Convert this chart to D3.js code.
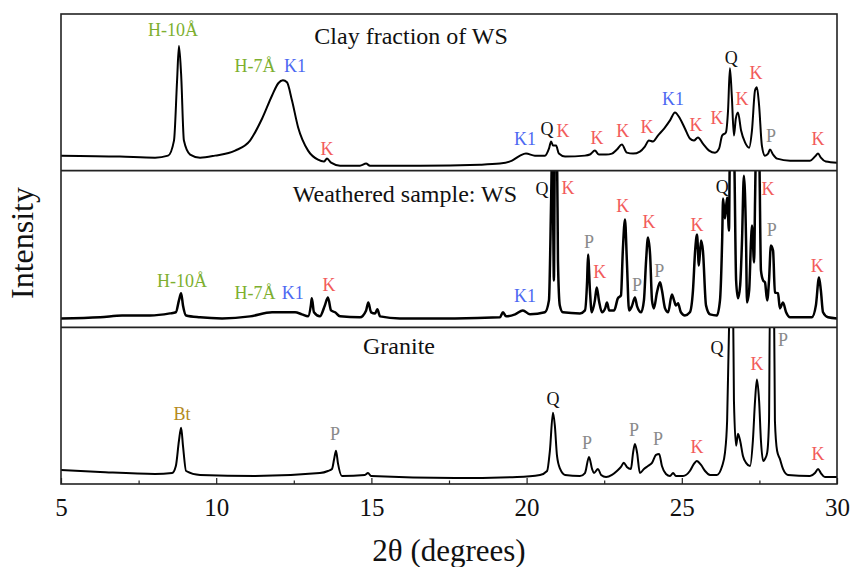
<!DOCTYPE html>
<html>
<head>
<meta charset="utf-8">
<script src="https://cdn.jsdelivr.net/npm/d3@7"></script>
<style>
  body { margin: 0; background: #fff; }
  svg text { font-family: "Liberation Serif", "Times New Roman", serif; }
</style>
</head>
<body>
<div id="chart"></div>
<script>
// 2θ (degrees) and relative intensity (0-100 = panel height)
const clayData = [
  [5.0, 9.6], [6.9, 9.0], [8.03, 8.3], [8.45, 9.6], [8.64, 19.2], [8.74, 57.7], [8.80, 79.5],
  [8.87, 61.5], [8.96, 19.2], [9.16, 10.3], [9.48, 8.3], [9.96, 9.6], [10.61, 12.8], [11.09, 19.2],
  [11.48, 33.3], [11.8, 48], [12.0, 55.8], [12.15, 57.7], [12.28, 56.4], [12.44, 44.9], [12.64, 27.6],
  [12.96, 12.8], [13.28, 7], [13.47, 5.8], [13.57, 7.7], [13.7, 5.1], [13.99, 3.2], [14.63, 3.2],
  [14.83, 4.5], [14.95, 3.2], [16.57, 3.2], [18.5, 3.8], [19.14, 4.5], [19.53, 6.4], [19.79, 9.6],
  [19.98, 10.9], [20.27, 9.6], [20.59, 9.6], [20.72, 14.1], [20.79, 18.6], [20.85, 16], [20.95, 16],
  [21.04, 10.9], [21.24, 9], [21.88, 9.6], [22.04, 10.3], [22.2, 12.8], [22.33, 10.3], [22.56, 10.3],
  [22.75, 10.9], [22.91, 13.5], [23.07, 16.7], [23.23, 11.5], [23.43, 10.9], [23.65, 12.2], [23.81, 15.4],
  [23.94, 19.2], [24.07, 18.6], [24.23, 22.4], [24.43, 26.9], [24.62, 32.1], [24.78, 37.2], [24.94, 33.3],
  [25.1, 26.9], [25.26, 20.5], [25.39, 19.2], [25.52, 21.2], [25.68, 17.3], [25.88, 12.8], [26.07, 11.5],
  [26.2, 14.1], [26.3, 22.4], [26.42, 24.4], [26.49, 38.5], [26.55, 65.4], [26.61, 48.1], [26.68, 22.4],
  [26.74, 33.3], [26.81, 37.2], [26.91, 25.6], [27.04, 17.9], [27.17, 14.7], [27.26, 25.6], [27.36, 51.3],
  [27.42, 53.2], [27.49, 41.7], [27.58, 16], [27.68, 9.6], [27.78, 10.9], [27.84, 13.5], [27.94, 10.3],
  [28.07, 7.7], [28.49, 6.4], [29.13, 6.4], [29.29, 9], [29.39, 10.9], [29.48, 8.3], [29.64, 5.8], [30, 5.1]
];

const wsData = [
  [5.0, 5.7], [6.26, 6.4], [6.97, 7.6], [7.87, 7.6], [8.51, 8.9], [8.7, 9.6], [8.8, 17.2], [8.87, 21.7],
  [8.93, 14], [9.03, 7.6], [9.48, 6.4], [10.19, 5.7], [11.09, 7], [11.8, 9.6], [12.54, 9.6], [12.76, 8.3],
  [12.96, 7], [13.05, 14], [13.08, 18.5], [13.15, 9.6], [13.34, 7], [13.5, 14], [13.6, 19.1], [13.7, 10.8],
  [13.83, 9.6], [13.99, 7], [14.63, 6.4], [14.83, 10.8], [14.9, 15.9], [14.99, 9.6], [15.12, 8.9],
  [15.19, 11.5], [15.28, 7], [15.92, 5.7], [17.69, 5.7], [19.14, 6.4], [19.24, 9.6], [19.34, 7],
  [19.63, 8.3], [19.88, 10.8], [20.11, 8.3], [20.59, 9.6], [20.72, 17.2], [20.79, 80.9], [20.82, 112],
  [20.85, 80.9], [20.88, 29.9], [20.91, 112], [20.98, 112], [21.01, 42.7], [21.07, 14], [21.17, 9.6],
  [21.72, 8.9], [21.88, 10.8], [21.95, 29.9], [21.98, 46.5], [22.04, 23.6], [22.1, 9.6], [22.2, 17.2],
  [22.26, 25.5], [22.33, 17.2], [22.43, 9.6], [22.53, 12.1], [22.59, 15.9], [22.66, 10.8], [22.82, 10.8],
  [22.94, 18.5], [23.04, 20.4], [23.1, 49], [23.17, 68.8], [23.23, 42.7], [23.3, 10.8], [23.39, 13.4],
  [23.49, 19.1], [23.56, 13.4], [23.69, 9.6], [23.78, 17.2], [23.85, 42.7], [23.91, 57.3], [23.98, 45.9],
  [24.04, 17.2], [24.1, 12.1], [24.2, 22.3], [24.3, 28.7], [24.36, 23.6], [24.46, 12.1], [24.56, 9.6],
  [24.68, 21], [24.75, 17.2], [24.81, 14], [24.88, 15.3], [24.97, 9.6], [25.1, 7.6], [25.26, 9.6],
  [25.36, 23.6], [25.43, 49], [25.49, 59.2], [25.55, 39.5], [25.62, 55.4], [25.68, 49], [25.78, 14],
  [25.91, 8.3], [26.13, 7.6], [26.23, 17.2], [26.3, 55.4], [26.33, 82.2], [26.39, 69.4], [26.46, 82.8],
  [26.52, 61.8], [26.55, 112], [26.68, 112], [26.75, 29.9], [26.81, 18.5], [26.88, 26.8], [26.94, 55.4],
  [27.0, 96.8], [27.07, 55.4], [27.1, 15.9], [27.17, 23.6], [27.23, 55.4], [27.26, 65], [27.33, 41.4],
  [27.36, 80.9], [27.39, 112], [27.49, 112], [27.55, 36.3], [27.62, 29.9], [27.68, 28.7], [27.75, 17.2],
  [27.81, 29.9], [27.87, 52.2], [27.94, 49], [28.0, 22.3], [28.1, 21.7], [28.16, 12.1], [28.26, 15.9],
  [28.36, 9.6], [28.49, 6.4], [29.19, 6.4], [29.32, 14], [29.42, 31.8], [29.48, 23.6], [29.55, 9.6],
  [29.71, 6.4], [30, 5.7]
];

const graniteData = [
  [5.0, 9], [6.26, 7.7], [8.03, 6.4], [8.58, 7], [8.7, 11.5], [8.8, 27.6], [8.87, 35.9], [8.93, 24.4],
  [9.03, 8.3], [9.48, 5.8], [11.25, 5.1], [13.34, 7], [13.6, 8.3], [13.73, 9.6], [13.8, 16], [13.86, 21.2],
  [13.92, 13.5], [14.05, 5.1], [14.79, 5.8], [14.89, 7], [14.99, 5.1], [17.69, 3.8], [19.69, 4.5],
  [20.43, 5.8], [20.66, 8.3], [20.75, 21.2], [20.85, 45.5], [20.91, 37.2], [20.98, 17.9], [21.08, 9.6],
  [21.24, 5.8], [21.72, 5.1], [21.88, 7], [22.01, 17.3], [22.11, 9.6], [22.17, 7], [22.3, 9.6], [22.4, 5.8],
  [22.56, 4.5], [22.75, 5.8], [22.91, 8.3], [23.04, 10.9], [23.13, 13.5], [23.23, 10.9], [23.36, 9.6],
  [23.43, 19.9], [23.49, 25.6], [23.56, 19.9], [23.65, 7], [23.78, 9.6], [23.91, 11.5], [24.04, 13.5],
  [24.17, 18.6], [24.27, 19.2], [24.36, 11.5], [24.49, 6.4], [24.62, 5.1], [24.72, 7], [24.81, 5.1],
  [25.04, 5.1], [25.26, 8.3], [25.39, 12.8], [25.48, 14.7], [25.62, 12.2], [25.75, 8.3], [25.91, 5.8],
  [26.13, 5.8], [26.3, 11.5], [26.39, 19.9], [26.46, 40.4], [26.52, 98], [26.55, 117], [26.65, 117],
  [26.68, 53.2], [26.75, 24.4], [26.81, 32.1], [26.88, 27.6], [26.97, 17.9], [27.07, 13.5], [27.2, 11.5],
  [27.29, 27.6], [27.36, 53.2], [27.42, 66.7], [27.49, 53.2], [27.55, 27.6], [27.62, 14.7], [27.68, 16],
  [27.75, 19.9], [27.81, 40.4], [27.84, 117], [27.97, 117], [28.0, 40.4], [28.07, 21.2], [28.16, 16],
  [28.26, 9.6], [28.42, 5.8], [29.13, 5.1], [29.29, 7], [29.39, 9.6], [29.48, 7], [29.61, 4.5], [30, 4.5]
];

// peak labels: [2θ, intensity, text, phase]
const clayLabels = [
  [8.61, 89.7, "H-10Å", "H"], [11.25, 67.3, "H-7Å", "H"], [12.54, 67.3, "K1", "K1"], [13.57, 14.1, "K", "K"],
  [19.95, 20.5, "K1", "K1"], [20.66, 26.9, "Q", "Q"], [21.17, 25.6, "K", "K"], [22.27, 21.2, "K", "K"],
  [23.1, 25.6, "K", "K"], [23.88, 28.2, "K", "K"], [24.72, 46.2, "K1", "K1"], [25.46, 29.5, "K", "K"],
  [26.13, 34, "K", "K"], [26.59, 72.4, "Q", "Q"], [26.94, 46.2, "K", "K"], [27.39, 62.8, "K", "K"],
  [27.87, 22.4, "P", "P"], [29.39, 20.5, "K", "K"]
];
const wsLabels = [
  [8.9, 29.9, "H-10Å", "H"], [11.25, 22.3, "H-7Å", "H"], [12.47, 22.3, "K1", "K1"], [13.63, 27.4, "K", "K"],
  [19.95, 20.4, "K1", "K1"], [20.5, 88.5, "Q", "Q"], [21.33, 89.2, "K", "K"], [22.01, 54.8, "P", "P"],
  [22.36, 35.7, "K", "K"], [23.1, 77.7, "K", "K"], [23.56, 27.4, "P", "P"], [23.94, 67.5, "K", "K"],
  [24.27, 36.3, "P", "P"], [25.49, 65.6, "K", "K"], [26.3, 89.8, "Q", "Q"], [27.78, 88.5, "K", "K"],
  [27.9, 62.4, "P", "P"], [29.36, 39.5, "K", "K"]
];
const graniteLabels = [
  [8.9, 44.9, "Bt", "Bt"], [13.83, 32.1, "P", "P"], [20.85, 54.5, "Q", "Q"], [21.95, 26.3, "P", "P"],
  [23.46, 34.6, "P", "P"], [24.23, 28.8, "P", "P"], [25.49, 23.7, "K", "K"], [26.13, 87.2, "Q", "Q"],
  [27.42, 76.9, "K", "K"], [28.26, 92.3, "P", "P"], [29.39, 19.2, "K", "K"]
];

const panelTitles = ["Clay fraction of WS", "Weathered sample: WS", "Granite"];
const titlePos = [[16.28, 86.5], [16.08, 85.4], [15.89, 88.5]];
const xTicks = [5, 10, 15, 20, 25, 30];
const xMinorTicks = [7.5, 12.5, 17.5, 22.5, 27.5];

const phaseColor = {
  H: "#7daf2f", K1: "#4d69f2", K: "#f25b5b", Q: "#111", P: "#8a8a8a", Bt: "#b58a1e"
};

const width = 853;
const height = 567;
const margin = { top: 14, right: 16, bottom: 83, left: 61 };
const plotW = width - margin.left - margin.right;
const plotH = height - margin.top - margin.bottom;
const panelH = plotH / 3;
const serif = "'Liberation Serif', 'Times New Roman', Times, serif";

const svg = d3.select("#chart").append("svg")
  .attr("width", width)
  .attr("height", height)
  .attr("font-family", serif);

const x = d3.scaleLinear().domain([5, 30]).range([margin.left, margin.left + plotW]);

const panels = [
  { data: clayData, labels: clayLabels, sw: 2 },
  { data: wsData, labels: wsLabels, sw: 2.5 },
  { data: graniteData, labels: graniteLabels, sw: 2 }
];

const defs = svg.append("defs");

panels.forEach(function (p, i) {
  const top = margin.top + i * panelH;
  const y = d3.scaleLinear().domain([0, 100]).range([top + panelH, top]);

  defs.append("clipPath").attr("id", "clip" + i)
    .append("rect")
    .attr("x", margin.left).attr("y", top)
    .attr("width", plotW).attr("height", panelH);

  const line = d3.line()
    .x(function (d) { return x(d[0]) })
    .y(function (d) { return y(d[1]) })
    .curve(d3.curveMonotoneX);

  svg.append("path")
    .datum(p.data)
    .attr("clip-path", "url(#clip" + i + ")")
    .attr("fill", "none")
    .attr("stroke", "#000")
    .attr("stroke-width", p.sw)
    .attr("stroke-linejoin", "round")
    .attr("d", line);

  // phase labels
  svg.append("g").selectAll("text")
    .data(p.labels)
    .enter().append("text")
    .attr("x", function (d) { return x(d[0]) })
    .attr("y", function (d) { return y(d[1]) })
    .attr("dy", "0.35em")
    .attr("text-anchor", "middle")
    .attr("font-family", serif)
    .attr("font-size", 18)
    .attr("fill", function (d) { return phaseColor[d[3]] })
    .text(function (d) { return d[2] });

  svg.append("text")
    .attr("x", x(titlePos[i][0]))
    .attr("y", y(titlePos[i][1]))
    .attr("dy", "0.35em")
    .attr("text-anchor", "middle")
    .attr("font-family", serif)
    .attr("font-size", 24)
    .attr("fill", "#111")
    .text(panelTitles[i]);

  // panel separator
  if (i > 0) {
    svg.append("line")
      .attr("x1", margin.left).attr("x2", margin.left + plotW)
      .attr("y1", top).attr("y2", top)
      .attr("stroke", "#222").attr("stroke-width", 1.6);
  }
});

// frame
svg.append("rect")
  .attr("x", margin.left).attr("y", margin.top)
  .attr("width", plotW).attr("height", plotH)
  .attr("fill", "none")
  .attr("stroke", "#222")
  .attr("stroke-width", 1.6);

// bottom axis, ticks pointing inward
const axisY = margin.top + plotH;
const xAxis = svg.append("g")
  .attr("transform", "translate(0," + axisY + ")")
  .call(d3.axisBottom(x).tickValues(xTicks).tickSize(-6).tickPadding(14).tickFormat(d3.format("d")));
xAxis.select(".domain").remove();
xAxis.selectAll("line").attr("stroke", "#222").attr("stroke-width", 1.2);
xAxis.selectAll("text")
  .attr("font-family", serif)
  .attr("font-size", 25)
  .attr("fill", "#111");

svg.append("g")
  .attr("transform", "translate(0," + axisY + ")")
  .call(d3.axisBottom(x).tickValues(xMinorTicks).tickSize(-3.5).tickFormat(""))
  .call(function (g) { g.select(".domain").remove() })
  .selectAll("line").attr("stroke", "#222").attr("stroke-width", 1.2);

svg.append("text")
  .attr("x", x(17.5))
  .attr("y", 550)
  .attr("dy", "0.35em")
  .attr("text-anchor", "middle")
  .attr("font-family", serif)
  .attr("font-size", 31)
  .attr("fill", "#111")
  .text("2θ (degrees)");

svg.append("text")
  .attr("transform", "translate(22," + (margin.top + plotH / 2 - 6) + ") rotate(-90)")
  .attr("dy", "0.35em")
  .attr("text-anchor", "middle")
  .attr("font-family", serif)
  .attr("font-size", 32)
  .attr("fill", "#111")
  .text("Intensity");
</script>
</body>
</html>
